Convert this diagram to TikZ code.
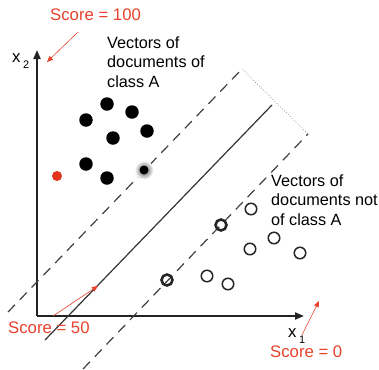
\documentclass[tikz,border=0pt]{standalone}
\usepackage{fontspec}
\setmainfont{Liberation Sans}
\usetikzlibrary{arrows.meta}
\definecolor{scorered}{HTML}{E8412C}
\definecolor{dotred}{HTML}{E2341A}
\definecolor{axisgray}{HTML}{222222}
\begin{document}
\begin{tikzpicture}[x=1bp,y=-1bp,
  axis/.style={line width=2bp, draw=axisgray, -{Triangle[length=9bp,width=7bp]}},
  hyper/.style={line width=1.2bp, draw=black!80},
  margin/.style={line width=1.2bp, draw=black!75, dash pattern=on 10bp off 7bp},
  widthline/.style={line width=0.7bp, draw=black!50, dotted},
  redarrow/.style={draw=scorered, line width=0.6bp, -{Triangle[length=6bp,width=5bp]}},
  score/.style={text=scorered, font=\fontsize{16.8}{19}\selectfont, inner sep=0, anchor=base west},
  lbl/.style={font=\fontsize{16.3}{19.5}\selectfont, inner sep=0, anchor=base west, align=left},
  axlbl/.style={font=\fontsize{16.8}{16}\selectfont, inner sep=0, anchor=base west},
  posdot/.style={circle, fill=black, minimum size=13.5bp, inner sep=0},
  negdot/.style={circle, draw=black!85, line width=1.5bp, minimum size=11.5bp, inner sep=0},
  svdot/.style={circle, draw=black!85, line width=2.6bp, minimum size=11bp, inner sep=0},
]
\useasboundingbox (0,0) rectangle (379,370);

% axes
\coordinate (O) at (37,316);
\coordinate (Ytop) at (37,50);
\coordinate (Xend) at (304,316);
\draw[axis] (O) -- (Ytop);
\draw[axis] (O) -- (Xend);
\node[axlbl] (x2) at (12,62) {x\hspace{2.5bp}\raisebox{-6bp}{\fontsize{11}{11}\selectfont 2}};
\node[axlbl] (x1) at (288,337) {x\hspace{2.5bp}\raisebox{-6bp}{\fontsize{11}{11}\selectfont 1}};

% hyperplane and margins
\coordinate (h1) at (45,340);
\coordinate (h2) at (272,105);
\coordinate (u1) at (8,312);
\coordinate (u2) at (242,69);
\coordinate (l1) at (83,369);
\coordinate (l2) at (308,134);
\draw[hyper] (h1) -- (h2);
\draw[margin] (u1) -- (u2);
\draw[margin] (l1) -- (l2);
\draw[widthline] (u2) -- (l2);

% class A
\node[posdot] (a1) at (86,120) {};
\node[posdot] (a2) at (107,104) {};
\node[posdot] (a3) at (132,112) {};
\node[posdot] (a4) at (113,138) {};
\node[posdot] (a5) at (147,131) {};
\node[posdot] (a6) at (86,164) {};
\node[posdot] (a7) at (107,178) {};
\shade[inner color=black!70, outer color=white] (144,170) circle (9.5bp);
\node[circle, fill=black, minimum size=9bp, inner sep=0] (asv) at (144,170) {};
\node[circle, fill=dotred, minimum size=10bp, inner sep=0] (red) at (57,176) {};

% not class A
\node[negdot] (b1) at (251,209) {};
\node[svdot] (bsv1) at (221,225) {};
\node[negdot] (b2) at (274,238) {};
\node[negdot] (b3) at (250,249) {};
\node[negdot] (b4) at (300,253) {};
\node[negdot] (b5) at (207,276) {};
\node[negdot] (b6) at (228,284) {};
\node[svdot] (bsv2) at (167,280) {};

% labels (base anchor = baseline of last line)
\node[lbl] (lblA) at (107,87) {Vectors of\\documents of\\class A};
\node[lbl] (lblB) at (271,225) {Vectors of\\documents not\\of class A};

% scores
\node[score] (s100) at (50,20) {Score = 100};
\node[score] (s50) at (8,333) {Score = 50};
\node[score] (s0) at (270,357) {Score = 0};
\coordinate (s100t) at (78,32);
\coordinate (s100h) at (47,62);
\coordinate (s50t) at (53,316);
\coordinate (s50h) at (98,286);
\coordinate (s0t) at (302,335);
\coordinate (s0h) at (319,301);
\draw[redarrow] (s100t) -- (s100h);
\draw[redarrow] (s50t) -- (s50h);
\draw[redarrow] (s0t) -- (s0h);
\end{tikzpicture}
\end{document}
